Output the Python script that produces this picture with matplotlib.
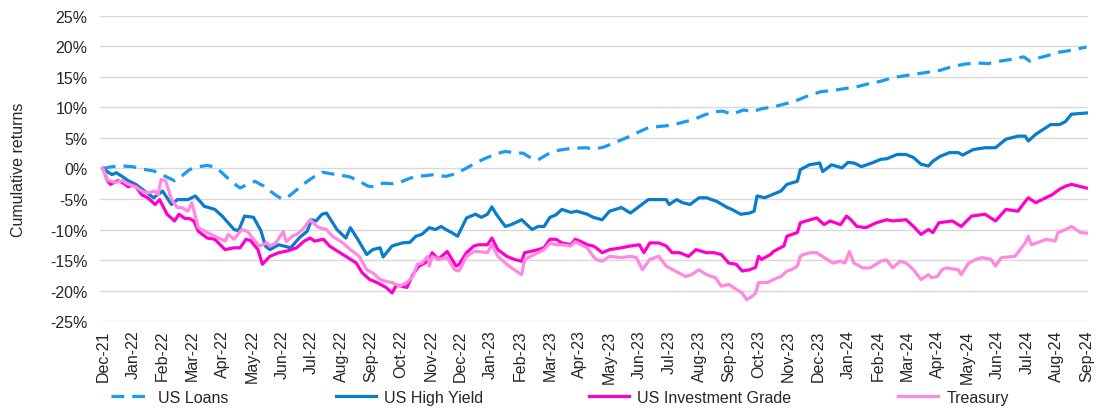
import matplotlib
matplotlib.use("Agg")
from matplotlib import pyplot as plt
from matplotlib.ticker import FuncFormatter

plt.rcParams['font.family'] = ['Liberation Sans', 'DejaVu Sans']

# month labels (one per month end, Dec-21 .. Sep-24)
month_labels = ['Dec-21', 'Jan-22', 'Feb-22', 'Mar-22', 'Apr-22', 'May-22', 'Jun-22', 'Jul-22',
                'Aug-22', 'Sep-22', 'Oct-22', 'Nov-22', 'Dec-22', 'Jan-23', 'Feb-23', 'Mar-23',
                'Apr-23', 'May-23', 'Jun-23', 'Jul-23', 'Aug-23', 'Sep-23', 'Oct-23', 'Nov-23',
                'Dec-23', 'Jan-24', 'Feb-24', 'Mar-24', 'Apr-24', 'May-24', 'Jun-24', 'Jul-24',
                'Aug-24', 'Sep-24']

# cumulative returns (%), x = months since Dec-21
loans_t = [0, 0.3, 0.7, 1.0, 1.3, 1.7, 2.1, 2.4, 2.65, 2.9, 3.2, 3.5, 3.8, 4.1, 4.35, 4.6,
           4.85, 5.1, 5.4, 5.75, 6.0, 6.2, 6.5, 6.8, 7.1, 7.35, 7.7, 8.0, 8.3, 8.6, 8.9, 9.1,
           9.4, 9.7, 10.0, 10.3, 10.6, 10.8, 11.1, 11.5, 11.8, 12.1, 12.5, 12.8, 13.2, 13.5,
           13.8, 14.1, 14.3, 14.6, 14.9, 15.3, 15.7, 16.2, 16.5, 16.8, 17.2, 17.6, 17.9, 18.3,
           18.7, 19.1, 19.4, 19.8, 20.2, 20.5, 20.8, 21.1, 21.5, 21.8, 22.1, 22.5, 22.9, 23.3,
           23.7, 24.1, 24.5, 24.9, 25.3, 25.7, 26.1, 26.5, 26.9, 27.3, 27.7, 28.1, 28.5, 28.9,
           29.3, 29.7, 30.1, 30.5, 30.9, 31.1, 31.3, 31.7, 32.0, 32.4, 32.8, 33.0]
loans = [0, 0.3, 0.4, 0.3, -0.1, -0.4, -1.3, -2.0, -1.2, -0.2, 0.3, 0.5, 0.2, -1.2, -2.3, -3.2,
         -2.6, -2.1, -2.9, -4.2, -5.0, -4.7, -3.5, -2.3, -1.3, -0.6, -0.9, -1.1, -1.4, -2.1, -2.9, -3.0,
         -2.4, -2.5, -2.2, -1.6, -1.2, -1.2, -1.0, -1.3, -0.9, -0.2, 0.9, 1.6, 2.4, 2.8,
         2.6, 2.5, 1.9, 1.4, 2.3, 3.0, 3.3, 3.4, 3.2, 3.5, 4.3, 5.1, 5.8, 6.7,
         6.9, 7.1, 7.5, 8.0, 8.8, 9.3, 9.4, 8.9, 9.6, 9.3, 9.8, 10.1, 10.6, 11.2,
         12.0, 12.6, 12.8, 13.1, 13.4, 13.9, 14.3, 14.9, 15.2, 15.5, 15.8, 16.1, 16.7, 17.1,
         17.3, 17.2, 17.6, 17.9, 18.3, 17.6, 18.0, 18.5, 19.0, 19.3, 19.7, 19.9]

hy_t = [0, 0.17, 0.3, 0.45, 0.64, 0.85, 1.1, 1.4, 1.7, 2.0, 2.3, 2.5, 2.85, 3.1, 3.4, 3.75,
        4.0, 4.4, 4.55, 4.75, 5.05, 5.3, 5.45, 5.6, 5.9, 6.3, 6.6, 6.85, 7.0, 7.15, 7.35, 7.5,
        7.85, 8.15, 8.3, 8.55, 8.85, 9.05, 9.3, 9.4, 9.7, 10.05, 10.3, 10.5, 10.7, 10.95, 11.15,
        11.35, 11.5, 11.7, 11.9, 12.2, 12.5, 12.7, 12.9, 13.05, 13.2, 13.5, 13.7, 14.05, 14.4,
        14.6, 14.8, 15.0, 15.2, 15.4, 15.7, 15.9, 16.25, 16.45, 16.75, 17.0, 17.4, 17.7, 18.0,
        18.3, 18.9, 19.0, 19.25, 19.45, 19.7, 20.0, 20.25, 20.6, 20.95, 21.1, 21.4, 21.7, 21.85,
        21.95, 22.2, 22.45, 22.75, 22.95, 23.3, 23.4, 23.7, 24.05, 24.15, 24.45, 24.8, 25.0,
        25.2, 25.45, 25.8, 26.1, 26.3, 26.65, 26.95, 27.2, 27.45, 27.7, 27.85, 28.1, 28.4, 28.7,
        28.85, 29.2, 29.6, 29.95, 30.3, 30.7, 30.95, 31.05, 31.3, 31.8, 32.1, 32.3, 32.5, 33.0]
hy = [0, -0.6, -1.0, -0.7, -1.3, -2.0, -2.6, -3.7, -4.8, -3.7, -5.9, -5.1, -5.1, -4.5, -6.2, -6.7,
      -7.8, -10.0, -10.2, -7.8, -8.0, -10.2, -12.7, -13.3, -12.5, -13.0, -11.3, -10.3, -8.4, -8.6, -7.5, -7.3,
      -10.0, -11.4, -9.7, -11.6, -14.1, -13.3, -13.0, -14.5, -12.7, -12.2, -12.1, -11.1, -10.8, -9.7, -10.0,
      -9.5, -10.0, -10.5, -11.1, -8.1, -7.5, -8.0, -7.5, -6.3, -7.5, -9.5, -9.2, -8.4, -10.0,
      -9.5, -9.5, -8.0, -7.6, -6.7, -7.2, -7.0, -7.5, -8.0, -8.4, -7.0, -6.4, -7.3, -6.2,
      -5.1, -5.1, -5.9, -5.1, -5.6, -5.9, -4.8, -4.8, -5.4, -6.4, -6.7, -7.5, -7.3, -7.0,
      -4.5, -4.8, -4.3, -3.7, -2.6, -2.1, -0.2, 0.6, 0.9, -0.5, 0.6, 0.1, 1.0,
      0.9, 0.3, 0.9, 1.5, 1.6, 2.3, 2.3, 1.8, 0.7, 0.4, 1.2, 2.0, 2.6, 2.6,
      2.2, 3.1, 3.4, 3.4, 4.8, 5.3, 5.3, 4.5, 5.6, 7.2, 7.2, 7.7, 8.9, 9.1]

ig_t = [0, 0.15, 0.25, 0.5, 0.65, 0.85, 1.05, 1.3, 1.5, 1.75, 1.9, 2.15, 2.4, 2.55, 2.75, 2.9,
        3.05, 3.2, 3.5, 3.75, 4.1, 4.4, 4.6, 4.8, 4.95, 5.2, 5.35, 5.6, 5.9, 6.2, 6.5, 6.75,
        6.95, 7.1, 7.4, 7.6, 7.95, 8.15, 8.5, 8.7, 8.95, 9.2, 9.5, 9.7, 9.85, 10.2, 10.4, 10.6,
        10.8, 10.95, 11.05, 11.25, 11.55, 11.85, 11.95, 12.2, 12.45, 12.6, 12.9, 13.05, 13.25,
        13.55, 13.8, 14.05, 14.15, 14.35, 14.6, 14.8, 15.0, 15.2, 15.4, 15.7, 15.85, 16.05,
        16.25, 16.45, 16.55, 16.75, 17.0, 17.4, 17.7, 18.0, 18.15, 18.35, 18.65, 18.9, 19.1,
        19.35, 19.65, 19.9, 20.25, 20.5, 20.75, 21.0, 21.25, 21.45, 21.7, 21.9, 22.0, 22.1,
        22.4, 22.5, 22.85, 22.95, 23.3, 23.4, 23.6, 23.95, 24.2, 24.4, 24.75, 24.95, 25.1,
        25.3, 25.6, 25.95, 26.3, 26.5, 26.95, 27.2, 27.45, 27.7, 27.85, 28.05, 28.5, 28.8,
        29.15, 29.6, 29.95, 30.3, 30.7, 30.95, 31.05, 31.3, 31.85, 32.1, 32.3, 32.5, 33.0]
ig = [0, -2.0, -2.6, -2.0, -2.3, -3.0, -2.6, -4.3, -4.8, -5.9, -5.1, -7.5, -8.6, -7.5, -8.2, -8.2,
      -8.6, -10.3, -11.4, -11.6, -13.3, -13.0, -13.0, -11.6, -11.8, -13.3, -15.7, -14.4, -13.8, -13.5, -13.0, -11.9,
      -11.4, -11.9, -11.6, -12.7, -13.8, -14.4, -15.5, -17.1, -18.2, -18.7, -19.5, -20.4, -19.1, -19.5, -17.4, -16.0,
      -15.5, -14.9, -13.8, -14.9, -13.6, -16.0, -15.7, -13.8, -12.7, -12.5, -12.5, -11.4, -13.3,
      -14.4, -14.9, -15.2, -13.8, -13.6, -13.3, -13.0, -11.6, -11.6, -12.2, -12.5, -11.6, -12.0,
      -12.5, -12.7, -13.0, -13.8, -13.3, -13.0, -12.7, -12.5, -13.8, -12.2, -12.2, -12.7, -13.8,
      -13.8, -14.4, -13.3, -13.8, -13.8, -14.1, -15.5, -15.7, -16.8, -16.6, -16.2, -14.4, -14.9,
      -14.1, -13.6, -12.7, -11.1, -10.5, -8.9, -8.6, -8.1, -9.2, -8.6, -9.2, -7.8, -8.4,
      -9.5, -9.7, -8.9, -8.4, -8.6, -8.4, -9.5, -10.8, -10.0, -10.5, -8.9, -8.6, -9.5,
      -7.8, -7.5, -8.6, -6.7, -7.0, -5.4, -4.8, -5.6, -4.3, -3.4, -2.9, -2.6, -3.2]

tsy_t = [0, 0.15, 0.4, 0.65, 0.85, 1.1, 1.3, 1.5, 1.75, 1.85, 1.95, 2.1, 2.3, 2.5, 2.65, 2.85,
         2.98, 3.2, 3.5, 3.75, 4.1, 4.2, 4.4, 4.65, 4.85, 5.1, 5.25, 5.5, 5.6, 5.8, 6.05, 6.15,
         6.35, 6.5, 6.7, 6.95, 7.05, 7.25, 7.5, 7.7, 8.05, 8.3, 8.6, 8.85, 9.05, 9.3, 9.5, 9.7,
         9.95, 10.2, 10.4, 10.55, 10.7, 10.9, 10.95, 11.05, 11.25, 11.55, 11.8, 11.95, 12.2,
         12.45, 12.6, 12.9, 13.05, 13.25, 13.55, 13.8, 14.05, 14.15, 14.35, 14.6, 14.8, 15.0,
         15.2, 15.4, 15.7, 15.85, 16.05, 16.25, 16.45, 16.55, 16.75, 17.0, 17.4, 17.7, 17.9,
         18.1, 18.35, 18.65, 18.9, 19.2, 19.55, 19.75, 20.0, 20.25, 20.55, 20.75, 21.0, 21.25,
         21.45, 21.6, 21.8, 21.9, 22.0, 22.3, 22.5, 22.75, 22.95, 23.1, 23.3, 23.4, 23.5, 23.75,
         23.95, 24.2, 24.5, 24.75, 24.9, 25.05, 25.2, 25.5, 25.75, 26.1, 26.3, 26.5, 26.75,
         26.95, 27.2, 27.45, 27.7, 27.8, 28.0, 28.15, 28.3, 28.7, 28.8, 29.05, 29.3, 29.5, 29.8,
         29.95, 30.15, 30.6, 30.7, 30.95, 31.05, 31.15, 31.5, 31.65, 31.95, 32.05, 32.3, 32.5,
         32.65, 32.8, 33.0]
tsy = [0, -1.9, -2.3, -2.0, -2.6, -3.0, -3.7, -4.0, -3.7, -4.3, -1.8, -2.0, -5.1, -6.4, -6.4, -7.0,
       -5.6, -9.7, -10.5, -11.1, -11.9, -10.8, -11.6, -10.0, -10.3, -11.9, -12.7, -12.2, -12.7, -12.2, -10.3, -12.0,
       -11.1, -10.8, -10.0, -8.4, -8.9, -9.7, -10.0, -11.1, -12.2, -13.3, -14.4, -16.6, -17.1, -18.2, -18.5, -18.7,
       -19.3, -18.7, -17.7, -15.7, -15.5, -14.4, -16.0, -14.4, -14.9, -14.6, -16.6, -16.8, -14.4,
       -13.6, -13.6, -13.8, -12.5, -14.4, -15.7, -16.6, -17.4, -14.9, -14.4, -13.8, -13.3, -12.2,
       -12.5, -12.5, -12.7, -12.0, -12.5, -13.0, -14.4, -14.9, -15.2, -14.4, -14.6, -14.4, -14.6,
       -16.6, -14.9, -14.4, -16.0, -16.8, -17.7, -17.4, -16.6, -17.4, -17.9, -19.3, -19.0, -19.8,
       -20.4, -21.5, -20.9, -20.4, -18.7, -18.7, -18.2, -17.7, -16.8, -16.6, -16.0, -14.4, -14.1, -13.8,
       -13.8, -14.6, -15.5, -15.2, -15.5, -13.6, -15.5, -16.3, -16.3, -15.2, -15.0, -16.3, -15.2,
       -15.5, -16.6, -18.2, -17.4, -17.9, -17.7, -16.6, -16.3, -16.6, -17.4, -15.5, -14.9, -14.6, -14.9,
       -16.0, -14.6, -14.4, -13.8, -12.2, -11.1, -12.5, -11.9, -11.6, -11.9, -10.5, -10.0, -9.5,
       -10.0, -10.5, -10.6]

TXT = '#262626'
FS = 11.5

fig = plt.figure(figsize=(11.05, 4.1), dpi=100)
ax = fig.add_axes([0.0905, 0.2146, 0.894, 0.744])

lines = []
lines += ax.plot(loans_t, loans, color='#1a9af0', lw=2.3, dashes=(4, 2.5), label='US Loans')
lines += ax.plot(hy_t, hy, color='#0a7ccc', lw=2.3, label='US High Yield')
lines += ax.plot(ig_t, ig, color='#ff00cc', lw=2.3, label='US Investment Grade')
lines += ax.plot(tsy_t, tsy, color='#ff88e0', lw=2.3, label='Treasury')

ax.set_ylim(-25, 25)
ax.set_yticks(range(-25, 26, 5))
ax.yaxis.set_major_formatter(FuncFormatter(lambda v, p: '{:.0f}%'.format(v)))
ax.set_xlim(-0.1, 33.05)
ax.set_xticks(range(len(month_labels)))
ax.set_xticklabels(month_labels, rotation=90)
ax.tick_params(length=0, labelsize=FS, colors=TXT)
ax.tick_params(axis='y', pad=9)
ax.tick_params(axis='x', pad=6)
ax.grid(axis='y', color='#d9d9d9', lw=1)
ax.set_axisbelow(True)
for s in ax.spines.values():
    s.set_visible(False)
ax.set_ylabel('Cumulative returns', fontsize=FS, color=TXT)
ax.yaxis.set_label_coords(-0.075, 0.5)

# legend entries spread along the bottom like the original
legend_x = [0.1, 0.304, 0.533, 0.813]
for ln, lx in zip(lines, legend_x):
    fig.legend(handles=[ln], loc='center left', bbox_to_anchor=(lx, 0.028), frameon=False,
               fontsize=FS, handlelength=2.5, handletextpad=0.5, borderaxespad=0,
               borderpad=0, labelcolor=TXT)

plt.savefig('out.png', dpi=100)
